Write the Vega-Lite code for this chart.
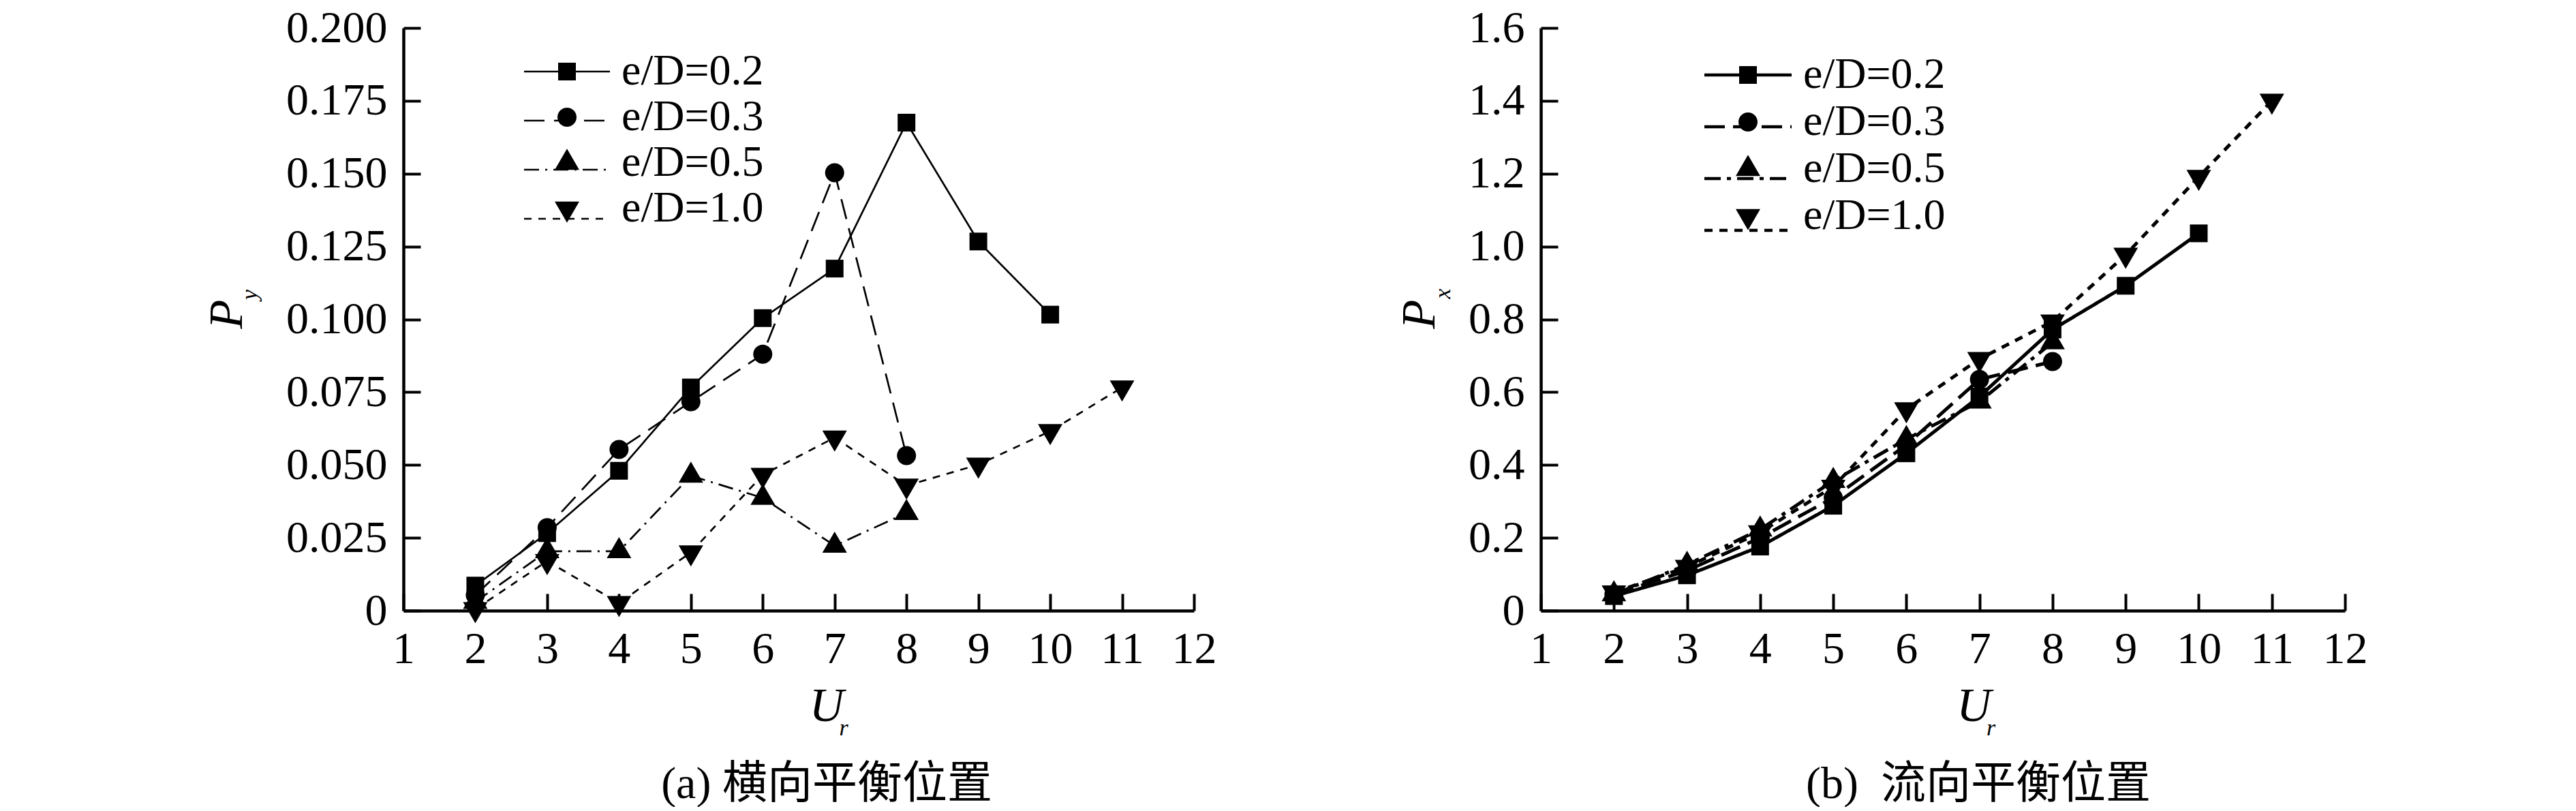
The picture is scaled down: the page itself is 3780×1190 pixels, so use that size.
{
  "$schema": "https://vega.github.io/schema/vega-lite/v6.json",
  "background": "white",
  "padding": {"left": 298, "top": 8, "right": 10, "bottom": 0},
  "config": {
    "view": {"stroke": null},
    "font": "Liberation Serif",
    "axis": {
      "domainColor": "black", "domainWidth": 4.5,
      "tickColor": "black", "tickWidth": 4, "tickSize": -25,
      "labelPadding": 49, "labelFont": "Liberation Serif", "labelFontSize": 66, "labelColor": "black",
      "labelFlush": false, "labelOverlap": false, "grid": false,
      "titleFont": "Liberation Serif", "titleFontStyle": "italic", "titleFontWeight": "normal", "titleColor": "black"
    }
  },
  "datasets": {
    "py": [
      {"Ur": 2, "value": 0.0086, "series": "e/D=0.2"},
      {"Ur": 3, "value": 0.0266, "series": "e/D=0.2"},
      {"Ur": 4, "value": 0.048, "series": "e/D=0.2"},
      {"Ur": 5, "value": 0.0766, "series": "e/D=0.2"},
      {"Ur": 6, "value": 0.1004, "series": "e/D=0.2"},
      {"Ur": 7, "value": 0.1174, "series": "e/D=0.2"},
      {"Ur": 8, "value": 0.1675, "series": "e/D=0.2"},
      {"Ur": 9, "value": 0.1267, "series": "e/D=0.2"},
      {"Ur": 10, "value": 0.1016, "series": "e/D=0.2"},
      {"Ur": 2, "value": 0.0053, "series": "e/D=0.3"},
      {"Ur": 3, "value": 0.0285, "series": "e/D=0.3"},
      {"Ur": 4, "value": 0.0553, "series": "e/D=0.3"},
      {"Ur": 5, "value": 0.0717, "series": "e/D=0.3"},
      {"Ur": 6, "value": 0.088, "series": "e/D=0.3"},
      {"Ur": 7, "value": 0.1503, "series": "e/D=0.3"},
      {"Ur": 8, "value": 0.0532, "series": "e/D=0.3"},
      {"Ur": 2, "value": 0.003, "series": "e/D=0.5"},
      {"Ur": 3, "value": 0.0204, "series": "e/D=0.5"},
      {"Ur": 4, "value": 0.0204, "series": "e/D=0.5"},
      {"Ur": 5, "value": 0.0463, "series": "e/D=0.5"},
      {"Ur": 6, "value": 0.0387, "series": "e/D=0.5"},
      {"Ur": 7, "value": 0.0223, "series": "e/D=0.5"},
      {"Ur": 8, "value": 0.0335, "series": "e/D=0.5"},
      {"Ur": 2, "value": 0.0005, "series": "e/D=1.0"},
      {"Ur": 3, "value": 0.017, "series": "e/D=1.0"},
      {"Ur": 4, "value": 0.0026, "series": "e/D=1.0"},
      {"Ur": 5, "value": 0.02, "series": "e/D=1.0"},
      {"Ur": 6, "value": 0.0466, "series": "e/D=1.0"},
      {"Ur": 7, "value": 0.0594, "series": "e/D=1.0"},
      {"Ur": 8, "value": 0.0429, "series": "e/D=1.0"},
      {"Ur": 9, "value": 0.0501, "series": "e/D=1.0"},
      {"Ur": 10, "value": 0.0616, "series": "e/D=1.0"},
      {"Ur": 11, "value": 0.0766, "series": "e/D=1.0"}
    ],
    "px": [
      {"Ur": 2, "value": 0.04, "series": "e/D=0.2"},
      {"Ur": 3, "value": 0.097, "series": "e/D=0.2"},
      {"Ur": 4, "value": 0.176, "series": "e/D=0.2"},
      {"Ur": 5, "value": 0.288, "series": "e/D=0.2"},
      {"Ur": 6, "value": 0.432, "series": "e/D=0.2"},
      {"Ur": 7, "value": 0.588, "series": "e/D=0.2"},
      {"Ur": 8, "value": 0.772, "series": "e/D=0.2"},
      {"Ur": 9, "value": 0.892, "series": "e/D=0.2"},
      {"Ur": 10, "value": 1.036, "series": "e/D=0.2"},
      {"Ur": 2, "value": 0.045, "series": "e/D=0.3"},
      {"Ur": 3, "value": 0.11, "series": "e/D=0.3"},
      {"Ur": 4, "value": 0.2, "series": "e/D=0.3"},
      {"Ur": 5, "value": 0.31, "series": "e/D=0.3"},
      {"Ur": 6, "value": 0.455, "series": "e/D=0.3"},
      {"Ur": 7, "value": 0.635, "series": "e/D=0.3"},
      {"Ur": 8, "value": 0.684, "series": "e/D=0.3"},
      {"Ur": 2, "value": 0.045, "series": "e/D=0.5"},
      {"Ur": 3, "value": 0.126, "series": "e/D=0.5"},
      {"Ur": 4, "value": 0.223, "series": "e/D=0.5"},
      {"Ur": 5, "value": 0.356, "series": "e/D=0.5"},
      {"Ur": 6, "value": 0.471, "series": "e/D=0.5"},
      {"Ur": 7, "value": 0.574, "series": "e/D=0.5"},
      {"Ur": 8, "value": 0.737, "series": "e/D=0.5"},
      {"Ur": 2, "value": 0.05, "series": "e/D=1.0"},
      {"Ur": 3, "value": 0.12, "series": "e/D=1.0"},
      {"Ur": 4, "value": 0.215, "series": "e/D=1.0"},
      {"Ur": 5, "value": 0.34, "series": "e/D=1.0"},
      {"Ur": 6, "value": 0.553, "series": "e/D=1.0"},
      {"Ur": 7, "value": 0.691, "series": "e/D=1.0"},
      {"Ur": 8, "value": 0.794, "series": "e/D=1.0"},
      {"Ur": 9, "value": 0.977, "series": "e/D=1.0"},
      {"Ur": 10, "value": 1.191, "series": "e/D=1.0"},
      {"Ur": 11, "value": 1.4, "series": "e/D=1.0"}
    ]
  },
  "bounds": "flush",
  "spacing": 509,
  "resolve": {"scale": {"shape": "independent", "strokeDash": "independent"}, "legend": {"shape": "independent", "strokeDash": "independent"}},
  "hconcat": [
    {
      "width": 1160,
      "height": 855,
      "data": {"name": "py"},
      "title": {"text": "(a) 横向平衡位置", "orient": "bottom", "anchor": "middle", "frame": "group", "dx": 41, "offset": 34, "font": "'Liberation Serif', 'Noto Sans CJK SC'", "fontSize": 66, "fontWeight": "normal", "color": "black"},
      "layer": [
        {
          "mark": {"type": "line", "color": "black", "strokeWidth": 2.7, "strokeCap": "butt"},
          "encoding": {
            "x": {"field": "Ur", "type": "quantitative", "scale": {"domain": [1, 12], "nice": false, "zero": false},
              "axis": {"values": [1, 2, 3, 4, 5, 6, 7, 8, 9, 10, 11, 12], "title": "U", "titleFontSize": 70, "titleX": 620.5, "titleY": 161, "titleAlign": "center", "titleBaseline": "alphabetic", "titleAngle": 0}},
            "y": {"field": "value", "type": "quantitative", "scale": {"domain": [0, 0.2], "nice": false},
              "axis": {"values": [0, 0.025, 0.05, 0.075, 0.1, 0.125, 0.15, 0.175, 0.2], "labelExpr": "datum.value == 0 ? '0' : format(datum.value, '.3f')", "title": "P", "titleFontSize": 70, "titleAngle": 270, "titleX": -238, "titleY": 419.5, "titleAlign": "center", "titleBaseline": "alphabetic"}},
            "strokeDash": {"field": "series", "type": "nominal",
              "scale": {"range": [[1, 0], [30, 14], [22, 9, 3, 9], [11, 10]]},
              "legend": {
                "title": null, "orient": "none", "legendX": 177, "legendY": -0.5, "padding": 0,
                "symbolType": "stroke", "symbolSize": 15876, "symbolStrokeWidth": 2.7, "symbolStrokeColor": "black", "symbolOffset": -1.5,
                "labelExpr": "''", "labelFont": "Liberation Serif", "labelFontSize": 1, "labelOffset": 10, "rowPadding": 2
              }}
          }
        },
        {
          "mark": {"type": "point", "filled": true, "opacity": 1, "color": "black", "size": 4},
          "encoding": {
            "x": {"field": "Ur", "type": "quantitative",
              "axis": {"orient": "bottom", "title": "r", "labels": false, "ticks": false, "domain": false, "titleFontSize": 34, "titleX": 645.5, "titleY": 182, "titleAlign": "center", "titleBaseline": "alphabetic", "titleAngle": 0}},
            "y": {"field": "value", "type": "quantitative",
              "axis": {"orient": "left", "title": "y", "labels": false, "ticks": false, "domain": false, "titleFontSize": 34, "titleX": -216, "titleY": 391, "titleAlign": "center", "titleBaseline": "alphabetic", "titleAngle": 270}},
            "shape": {"field": "series", "type": "nominal",
              "scale": {"domain": ["e/D=0.2", "e/D=0.3", "e/D=0.5", "e/D=1.0"],
                "range": [
                  "M-13,-13L13,-13L13,13L-13,13Z",
                  "M-14,0A14,14 0 1,0 14,0A14,14 0 1,0 -14,0Z",
                  "M0,-20.7L18,10.3L-18,10.3Z",
                  "M0,20.7L18,-10.3L-18,-10.3Z"
                ]},
              "legend": {
                "title": null, "orient": "none", "legendX": 177, "legendY": 32, "padding": 0,
                "labelFont": "Liberation Serif", "labelFontSize": 64, "labelColor": "black", "labelLimit": 600,
                "labelOffset": 48, "symbolOffset": 31, "symbolSize": 4, "symbolStrokeWidth": 0, "symbolOpacity": 1,
                "rowPadding": 3
              }}
          }
        }
      ],
      "resolve": {"axis": {"x": "independent", "y": "independent"}}
    },
    {
      "width": 1180,
      "height": 855,
      "data": {"name": "px"},
      "title": {"text": "(b)\u00a0 流向平衡位置", "orient": "bottom", "anchor": "middle", "frame": "group", "dx": 52, "offset": 34, "font": "'Liberation Serif', 'Noto Sans CJK SC'", "fontSize": 66, "fontWeight": "normal", "color": "black"},
      "layer": [
        {
          "mark": {"type": "line", "color": "black", "strokeWidth": 5, "strokeCap": "butt"},
          "encoding": {
            "x": {"field": "Ur", "type": "quantitative", "scale": {"domain": [1, 12], "nice": false, "zero": false},
              "axis": {"values": [1, 2, 3, 4, 5, 6, 7, 8, 9, 10, 11, 12], "title": "U", "titleFontSize": 70, "titleX": 635, "titleY": 161, "titleAlign": "center", "titleBaseline": "alphabetic", "titleAngle": 0}},
            "y": {"field": "value", "type": "quantitative", "scale": {"domain": [0, 1.6], "nice": false},
              "axis": {"values": [0, 0.2, 0.4, 0.6, 0.8, 1.0, 1.2, 1.4, 1.6], "labelExpr": "datum.value == 0 ? '0' : format(datum.value, '.1f')", "title": "P", "titleFontSize": 70, "titleAngle": 270, "titleX": -157, "titleY": 419.5, "titleAlign": "center", "titleBaseline": "alphabetic"}},
            "strokeDash": {"field": "series", "type": "nominal",
              "scale": {"range": [[1, 0], [30, 12], [24, 9, 6, 9], [12, 10]]},
              "legend": {
                "title": null, "orient": "none", "legendX": 236, "legendY": 2.5, "padding": 0,
                "symbolType": "stroke", "symbolSize": 16384, "symbolStrokeWidth": 4.7, "symbolStrokeColor": "black", "symbolOffset": 1.5,
                "labelExpr": "''", "labelFont": "Liberation Serif", "labelFontSize": 1, "labelOffset": 10, "rowPadding": 0
              }}
          }
        },
        {
          "mark": {"type": "point", "filled": true, "opacity": 1, "color": "black", "size": 4},
          "encoding": {
            "x": {"field": "Ur", "type": "quantitative",
              "axis": {"orient": "bottom", "title": "r", "labels": false, "ticks": false, "domain": false, "titleFontSize": 34, "titleX": 660, "titleY": 182, "titleAlign": "center", "titleBaseline": "alphabetic", "titleAngle": 0}},
            "y": {"field": "value", "type": "quantitative",
              "axis": {"orient": "left", "title": "x", "labels": false, "ticks": false, "domain": false, "titleFontSize": 34, "titleX": -134, "titleY": 389.5, "titleAlign": "center", "titleBaseline": "alphabetic", "titleAngle": 270}},
            "shape": {"field": "series", "type": "nominal",
              "scale": {"domain": ["e/D=0.2", "e/D=0.3", "e/D=0.5", "e/D=1.0"],
                "range": [
                  "M-13,-13L13,-13L13,13L-13,13Z",
                  "M-14,0A14,14 0 1,0 14,0A14,14 0 1,0 -14,0Z",
                  "M0,-20.7L18,10.3L-18,10.3Z",
                  "M0,20.7L18,-10.3L-18,-10.3Z"
                ]},
              "legend": {
                "title": null, "orient": "none", "legendX": 236, "legendY": 37, "padding": 0,
                "labelFont": "Liberation Serif", "labelFontSize": 64, "labelColor": "black", "labelLimit": 600,
                "labelOffset": 49, "symbolOffset": 36, "symbolSize": 4, "symbolStrokeWidth": 0, "symbolOpacity": 1,
                "rowPadding": 5
              }}
          }
        }
      ],
      "resolve": {"axis": {"x": "independent", "y": "independent"}}
    }
  ]
}
